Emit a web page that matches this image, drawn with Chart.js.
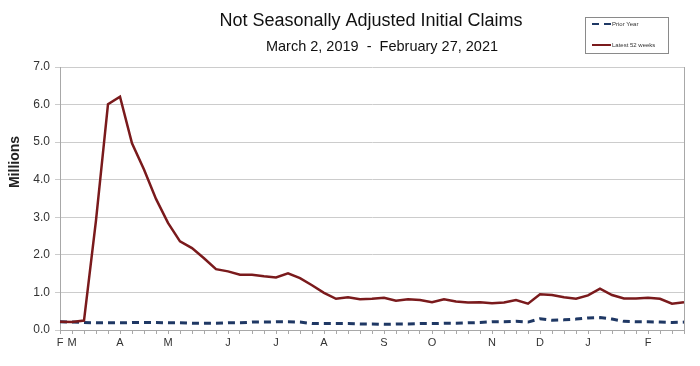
<!DOCTYPE html>
<html>
<head>
<meta charset="utf-8">
<script src="https://cdn.jsdelivr.net/npm/chart.js@4"></script>
<style>
body { margin: 0; background: #fff; }
canvas { display: block; }
</style>
</head>
<body>
<canvas id="claims" width="700" height="366"></canvas>
<script>
// week ending dates of the latest 52 weeks
const weeks = ['2/29', '3/7', '3/14', '3/21', '3/28', '4/4', '4/11', '4/18', '4/25',
    '5/2', '5/9', '5/16', '5/23', '5/30', '6/6', '6/13', '6/20', '6/27',
    '7/4', '7/11', '7/18', '7/25', '8/1', '8/8', '8/15', '8/22', '8/29',
    '9/5', '9/12', '9/19', '9/26', '10/3', '10/10', '10/17', '10/24', '10/31',
    '11/7', '11/14', '11/21', '11/28', '12/5', '12/12', '12/19', '12/26',
    '1/2', '1/9', '1/16', '1/23', '1/30', '2/6', '2/13', '2/20', '2/27'];

const tick_labels = ['F', 'M', '', '', '', 'A', '', '', '',
    'M', '', '', '', '', 'J', '', '', '',
    'J', '', '', '', 'A', '', '', '', '',
    'S', '', '', '', 'O', '', '', '', '',
    'N', '', '', '', 'D', '', '', '',
    'J', '', '', '', '', 'F', '', '', ''];

// millions
const latest = [0.22, 0.21, 0.25, 2.92, 6.01, 6.21, 4.97, 4.27, 3.49,
    2.85, 2.36, 2.18, 1.91, 1.62, 1.56, 1.47, 1.47, 1.43,
    1.40, 1.51, 1.38, 1.19, 0.99, 0.83, 0.87, 0.82, 0.83,
    0.86, 0.78, 0.82, 0.80, 0.74, 0.82, 0.76, 0.73, 0.74,
    0.71, 0.73, 0.80, 0.70, 0.95, 0.93, 0.87, 0.83,
    0.92, 1.10, 0.93, 0.84, 0.84, 0.86, 0.83, 0.70, 0.74];

const prior_year = [0.22, 0.21, 0.20, 0.19, 0.19, 0.19, 0.20, 0.20, 0.20,
    0.19, 0.19, 0.18, 0.18, 0.18, 0.19, 0.19, 0.21, 0.21,
    0.22, 0.22, 0.21, 0.17, 0.17, 0.17, 0.17, 0.16, 0.16,
    0.15, 0.16, 0.16, 0.17, 0.17, 0.18, 0.18, 0.19, 0.20,
    0.22, 0.22, 0.23, 0.21, 0.30, 0.26, 0.27, 0.29,
    0.32, 0.33, 0.29, 0.23, 0.22, 0.22, 0.21, 0.20, 0.21];

const FONT = "'Liberation Sans', Arial, sans-serif";

// titles, axis title, right border and the small legend box
const decor = {
    id: 'decor',
    afterDraw(chart) {
        const ctx = chart.ctx;
        const area = chart.chartArea;
        ctx.save();

        ctx.strokeStyle = '#a8a8a8';
        ctx.lineWidth = 1;
        ctx.beginPath();
        ctx.moveTo(area.right + 0.5, area.top);
        ctx.lineTo(area.right + 0.5, area.bottom);
        ctx.stroke();

        ctx.fillStyle = '#111';
        ctx.textAlign = 'center';
        ctx.textBaseline = 'alphabetic';
        ctx.font = '18px ' + FONT;
        ctx.fillText('Not Seasonally Adjusted Initial Claims', 371, 26);
        ctx.font = '14.5px ' + FONT;
        ctx.fillText('March 2, 2019  -  February 27, 2021', 382, 51);

        ctx.save();
        ctx.translate(15, 162);
        ctx.rotate(-Math.PI / 2);
        ctx.font = 'bold 14px ' + FONT;
        ctx.textBaseline = 'middle';
        ctx.fillStyle = '#222';
        ctx.fillText('Millions', 0, 0);
        ctx.restore();

        // legend
        ctx.strokeStyle = '#8a8a8a';
        ctx.strokeRect(585.5, 17.5, 83, 36);
        const ds = chart.data.datasets;
        const rows = [{ d: ds[0], y: 24 }, { d: ds[1], y: 45 }];
        ctx.font = '6px ' + FONT;
        ctx.textAlign = 'left';
        ctx.textBaseline = 'middle';
        rows.forEach(r => {
            ctx.strokeStyle = r.d.borderColor;
            ctx.lineWidth = 2;
            ctx.setLineDash(r.d.borderDash || []);
            ctx.beginPath();
            ctx.moveTo(592, r.y);
            ctx.lineTo(611, r.y);
            ctx.stroke();
            ctx.setLineDash([]);
            ctx.fillStyle = '#333';
            ctx.fillText(r.d.label, 612, r.y);
        });
        ctx.restore();
    }
};

new Chart(document.getElementById('claims'), {
    type: 'line',
    data: {
        labels: weeks,
        datasets: [{
            label: 'Prior Year',
            data: prior_year,
            borderColor: '#1f3864',
            borderWidth: 3,
            borderDash: [7, 5],
            pointRadius: 0,
            order: 2
        }, {
            label: 'Latest 52 weeks',
            data: latest,
            borderColor: '#7a1a1c',
            borderWidth: 2.5,
            pointRadius: 0,
            order: 1
        }]
    },
    options: {
        responsive: false,
        animation: false,
        layout: {
            padding: { top: 67, right: 16, left: 0, bottom: 0 }
        },
        plugins: {
            legend: { display: false },
            tooltip: { enabled: false }
        },
        scales: {
            x: {
                offset: false,
                grid: {
                    drawOnChartArea: false,
                    drawTicks: true,
                    tickLength: 4,
                    color: '#a8a8a8'
                },
                border: { color: '#a8a8a8' },
                ticks: {
                    autoSkip: false,
                    maxRotation: 0,
                    minRotation: 0,
                    padding: 2,
                    color: '#333',
                    font: { family: FONT, size: 11 },
                    callback: (value, index) => tick_labels[index]
                },
                afterFit: scale => { scale.height = 36; }
            },
            y: {
                min: 0,
                max: 7,
                grid: {
                    color: '#cccccc',
                    tickLength: 5
                },
                border: { color: '#a8a8a8' },
                ticks: {
                    stepSize: 1,
                    padding: 5,
                    color: '#333',
                    font: { family: FONT, size: 12 },
                    callback: value => value.toFixed(1)
                },
                afterFit: scale => { scale.width = 60; }
            }
        }
    },
    plugins: [decor]
});
</script>
</body>
</html>
